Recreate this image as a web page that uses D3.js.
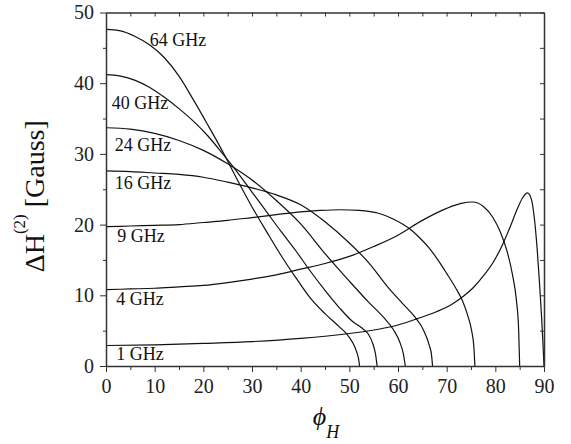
<html>
  <head>
    <meta charset="UTF-8">
    <script src="https://d3js.org/d3.v7.min.js"></script>
    <style>
      body {
        margin: 0;
        background: #fff;
        font-family: "Liberation Serif", "Times New Roman", serif;
      }

      svg text {
        font-family: "Liberation Serif", "Times New Roman", serif;
      }

      .axis text {
        font-size: 20px;
        fill: #222;
      }

      .axis path, .axis line {
        stroke: #333;
      }

      .curve {
        fill: none;
        stroke: #111;
        stroke-width: 1.2;
      }

      .curve-label {
        font-size: 18px;
        fill: #111;
      }
    </style>
  </head>
  <body>
    <svg width="571" height="444"></svg>
    <script>
      // values: [phi_H (deg), dH (Gauss)]
      const s1 = [[0,2.9],[10,3.0],[20,3.2],[30,3.45],[40,3.9],[50,4.6],[56,5.2],[60,5.8],[64,6.7],[68,7.7],[71,8.7],[73.5,9.9],[75.5,11.1],[77.5,12.7],[79.5,14.6],[81.5,17.2],[83,19.6],[84.5,22.2],[85.6,23.8],[86.6,24.5],[87.4,23.6],[88,21.0],[88.6,16.5],[89.1,11.5],[89.5,7.0],[89.8,3.0],[90,0]];
      const s4 = [[0,10.8],[5,10.9],[10,11.0],[15,11.2],[20,11.4],[25,11.8],[30,12.3],[35,12.9],[40,13.7],[45,14.5],[50,15.5],[55,16.9],[60,18.5],[65,20.6],[70,22.3],[73,23.0],[75.3,23.2],[77.5,22.6],[79.5,21.0],[81,19.0],[82.3,16.5],[83.5,13.0],[84.3,9.5],[84.8,5.0],[85.0,0]];
      const s9 = [[0,19.7],[5,19.8],[10,19.9],[15,20.0],[20,20.3],[25,20.6],[30,21.0],[35,21.4],[40,21.8],[44,22.0],[48,22.1],[52,22.0],[56,21.6],[59,20.8],[62.4,19.4],[64.5,18.1],[66.5,16.6],[68.3,14.9],[70,13.1],[71.8,11.1],[73.2,9.3],[74.3,7.2],[75.1,5.1],[75.6,2.6],[75.8,0]];
      const s16 = [[0,27.6],[5,27.5],[10,27.3],[15,27.1],[20,26.7],[25,26.0],[30,25.2],[35,24.2],[40,22.8],[45,20.4],[50,17.4],[54,14.6],[58,11.1],[61,8.8],[63.5,6.9],[65.3,5.0],[66.4,3.0],[66.9,1.5],[67.1,0]];
      const s24 = [[0,33.7],[5,33.5],[10,32.9],[15,31.9],[20,30.5],[25,28.6],[30,26.3],[35,23.4],[40,20.1],[45,15.9],[50,12.0],[54,9.0],[57,6.9],[59,5.2],[60.3,3.5],[61.1,1.7],[61.5,0]];
      const s40 = [[0,41.2],[3,41.0],[6,40.4],[9,39.4],[12,38.0],[15,36.4],[18,34.6],[21,32.5],[24,30.0],[27,27.4],[30,24.6],[33,21.8],[36,19.0],[39,16.3],[42,13.4],[45,10.7],[48,8.2],[50.5,6.4],[52.5,5.4],[53.8,4.6],[54.9,3.0],[55.4,1.6],[55.7,0]];
      const s64 = [[0,47.6],[3,47.4],[6,46.6],[9,45.4],[12,43.6],[15,41.0],[18,37.6],[21,34.0],[24,30.3],[27,26.3],[30,22.5],[33,19.0],[36,15.6],[39,12.5],[42,9.6],[45,7.4],[48,5.5],[49.5,4.5],[50.7,3.3],[51.5,2.0],[51.9,1.0],[52.1,0]];

      const series = [s1, s4, s9, s16, s24, s40, s64];
      const labels = ["1 GHz", "4 GHz", "9 GHz", "16 GHz", "24 GHz", "40 GHz", "64 GHz"];
      // where each label sits, in data units
      const labelX = [2.1, 2.1, 2.3, 1.8, 1.8, 1.2, 9.0];
      const labelY = [0.85, 8.6, 17.5, 25.0, 30.4, 36.4, 45.3];

      const xMajor = [0, 10, 20, 30, 40, 50, 60, 70, 80, 90];
      const xMinor = [5, 15, 25, 35, 45, 55, 65, 75, 85];
      const yMajor = [0, 10, 20, 30, 40, 50];
      const yMinor = [5, 15, 25, 35, 45];

      const svg = d3.select("svg");
      const margin = {top: 12.5, right: 27, bottom: 78, left: 106};
      const W = 571, H = 444;

      const x = d3.scaleLinear().domain([0, 90]).range([margin.left, W - margin.right]);
      const y = d3.scaleLinear().domain([0, 50]).range([H - margin.bottom, margin.top]);

      const line = d3.line()
        .x((d) => x(d[0]))
        .y((d) => y(d[1]))
        .curve(d3.curveMonotoneX);

      svg.append("g")
        .selectAll("path")
        .data(series)
        .join("path")
          .attr("class", "curve")
          .attr("d", line);

      svg.append("g")
        .selectAll("text")
        .data(labels)
        .join("text")
          .attr("class", "curve-label")
          .attr("x", (d, i) => x(labelX[i]))
          .attr("y", (d, i) => y(labelY[i]))
          .text((d) => d);

      // bottom
      svg.append("g")
        .attr("class", "axis")
        .attr("transform", `translate(0,${y(0)})`)
        .call(d3.axisBottom(x).tickValues(xMajor).tickSize(6).tickPadding(7).tickSizeOuter(0))
        .call((g) => g.select(".domain").attr("stroke-width", 1.5));
      svg.append("g")
        .attr("class", "axis")
        .attr("transform", `translate(0,${y(0)})`)
        .call(d3.axisBottom(x).tickValues(xMinor).tickSize(4).tickFormat(""))
        .call((g) => g.select(".domain").remove());

      // left
      svg.append("g")
        .attr("class", "axis")
        .attr("transform", `translate(${x(0)},0)`)
        .call(d3.axisLeft(y).tickValues(yMajor).tickSize(6).tickPadding(6).tickSizeOuter(0))
        .call((g) => g.select(".domain").attr("stroke-width", 1.5));
      svg.append("g")
        .attr("class", "axis")
        .attr("transform", `translate(${x(0)},0)`)
        .call(d3.axisLeft(y).tickValues(yMinor).tickSize(3).tickFormat(""))
        .call((g) => g.select(".domain").remove());

      // top and right, ticks pointing in
      svg.append("g")
        .attr("class", "axis")
        .attr("transform", `translate(0,${y(50)})`)
        .call(d3.axisTop(x).tickValues(xMajor.concat(xMinor)).tickSize(-4).tickFormat("").tickSizeOuter(0))
        .call((g) => g.select(".domain").attr("stroke-width", 1.5));
      svg.append("g")
        .attr("class", "axis")
        .attr("transform", `translate(${x(90)},0)`)
        .call(d3.axisRight(y).tickValues(yMajor.concat(yMinor)).tickSize(-4).tickFormat("").tickSizeOuter(0))
        .call((g) => g.select(".domain").attr("stroke-width", 1.5));

      // axis titles
      const yTitle = svg.append("text")
        .attr("transform", `translate(43.5,${(y(0) + y(50)) / 2 + 7}) rotate(-90)`)
        .attr("text-anchor", "middle")
        .style("font-size", "28px")
        .attr("fill", "#111");
      yTitle.append("tspan").text("ΔH");
      yTitle.append("tspan").attr("dy", -19).style("font-size", "17px").text("(2)");
      yTitle.append("tspan").attr("dy", 19).text(" [Gauss]");

      const xTitle = svg.append("text")
        .attr("x", (x(0) + x(90)) / 2 + 1)
        .attr("y", 425)
        .attr("text-anchor", "middle")
        .style("font-style", "italic")
        .style("font-size", "26px")
        .attr("fill", "#111");
      xTitle.append("tspan").text("ϕ");
      xTitle.append("tspan").attr("dy", 13).style("font-size", "18px").text("H");
    </script>
  </body>
</html>
